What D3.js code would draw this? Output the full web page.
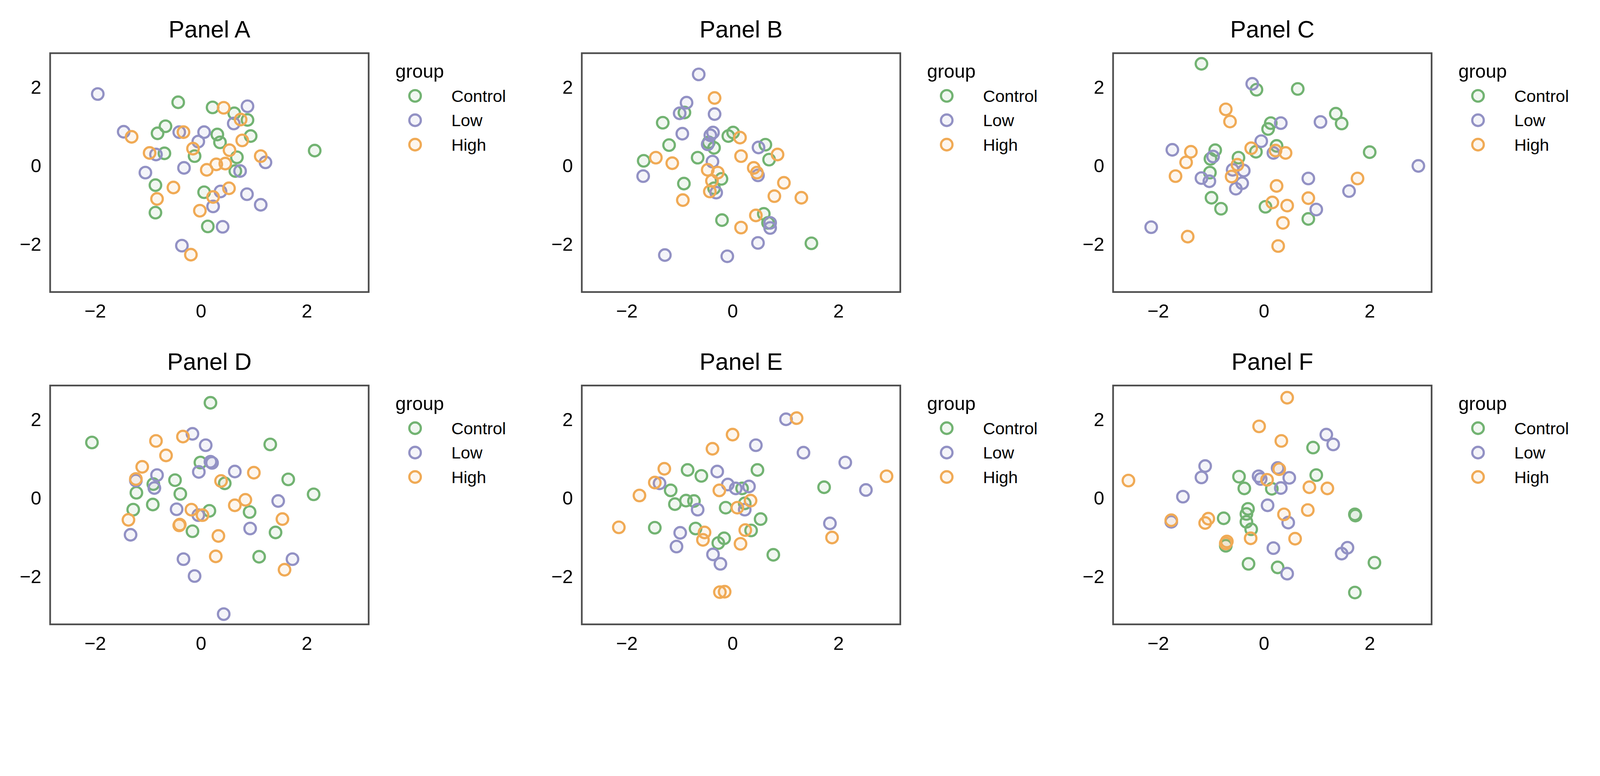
<!DOCTYPE html>
<html>
<head>
<meta charset="utf-8">
<script src="https://cdn.jsdelivr.net/npm/d3@7"></script>
<style>
  html, body { margin: 0; padding: 0; background: #fff; overflow: hidden; }
  svg { display: block; width: 100vw; height: 100vh; }
  text { font-family: "Liberation Sans", Arial, sans-serif; fill: #000; }
</style>
</head>
<body>
<div id="chart"></div>
<script>
const width = 4722
const height = 1987

const groups = ['Control', 'Low', 'High']
const colors = ['#72b372', '#9291c4', '#f0aa55']
const panelNames = ['Panel A', 'Panel B', 'Panel C', 'Panel D', 'Panel E', 'Panel F']
const xTicks = [-2, 0, 2]
const yTicks = [-2, 0, 2]

// [x, y] per point
const aControl = [[-0.43,1.62],[0.22,1.49],[0.63,1.34],[0.88,1.17],[-0.67,1.01],[-0.82,0.83],[0.31,0.80],[0.36,0.60],[0.94,0.76],[-0.69,0.32],[-0.12,0.25],[0.68,0.22],[2.15,0.39],[0.65,-0.13],[-0.86,-0.49],[0.06,-0.67],[-0.86,-1.19],[0.13,-1.54]]
const aLow = [[-1.95,1.83],[-1.46,0.87],[0.88,1.52],[0.62,1.08],[-0.41,0.86],[0.06,0.86],[-0.05,0.62],[-0.85,0.29],[1.22,0.09],[-0.32,-0.05],[-1.05,-0.17],[0.74,-0.13],[0.37,-0.65],[0.87,-0.72],[0.23,-1.03],[1.13,-0.99],[0.41,-1.55],[-0.36,-2.03]]
const aHigh = [[0.43,1.48],[0.75,1.18],[-1.31,0.74],[-0.33,0.86],[0.78,0.65],[-0.15,0.44],[-0.97,0.33],[0.54,0.40],[1.13,0.25],[0.29,0.04],[0.46,0.06],[0.11,-0.10],[-0.52,-0.55],[0.53,-0.57],[-0.83,-0.84],[0.23,-0.79],[-0.02,-1.14],[-0.19,-2.26]]

const bControl = [[-0.91,1.36],[-1.32,1.10],[0.01,0.85],[-0.08,0.76],[-1.20,0.53],[0.62,0.54],[-0.35,0.46],[-0.66,0.21],[0.69,0.16],[-1.68,0.13],[-0.21,-0.33],[-0.92,-0.45],[-0.35,-0.57],[0.59,-1.22],[-0.20,-1.38],[0.67,-1.45],[1.49,-1.97],[-0.45,0.60]]
const bLow = [[-0.64,2.33],[-0.87,1.61],[-1.00,1.34],[-0.34,1.32],[-0.95,0.82],[-0.37,0.85],[-0.42,0.78],[-0.47,0.55],[0.49,0.47],[-0.38,0.11],[-1.69,-0.26],[0.48,-0.24],[-0.31,-0.68],[0.71,-1.45],[0.71,-1.58],[0.48,-1.96],[-1.28,-2.27],[-0.10,-2.30]]
const bHigh = [[-0.34,1.73],[0.14,0.72],[0.85,0.29],[-1.45,0.21],[0.16,0.25],[-1.14,0.07],[-0.47,-0.10],[-0.28,-0.17],[0.40,-0.05],[0.46,-0.17],[-0.39,-0.38],[0.97,-0.43],[-0.43,-0.65],[0.79,-0.77],[1.30,-0.81],[-0.94,-0.87],[0.44,-1.26],[0.16,-1.57]]

const cControl = [[-1.18,2.60],[-0.14,1.94],[0.64,1.96],[1.36,1.33],[1.47,1.08],[0.13,1.09],[0.08,0.94],[0.24,0.51],[-0.15,0.36],[-0.92,0.40],[-1.01,0.18],[-0.48,0.21],[-1.02,-0.17],[2.00,0.35],[-0.99,-0.81],[-0.81,-1.09],[0.03,-1.04],[0.84,-1.35]]
const cLow = [[-0.22,2.09],[0.32,1.09],[1.07,1.12],[-0.05,0.63],[-1.73,0.41],[-0.96,0.24],[0.18,0.33],[-0.59,-0.10],[-0.38,-0.12],[-1.18,-0.31],[-1.03,-0.39],[-0.41,-0.44],[-0.53,-0.58],[0.84,-0.32],[2.92,0.00],[1.61,-0.64],[0.99,-1.11],[-2.13,-1.56]]
const cHigh = [[-0.72,1.44],[-0.64,1.13],[-0.24,0.45],[0.22,0.39],[0.41,0.33],[-1.38,0.36],[-1.47,0.09],[-0.50,0.03],[-0.61,-0.27],[-1.67,-0.26],[1.77,-0.32],[0.24,-0.51],[0.84,-0.82],[0.16,-0.93],[0.44,-1.01],[0.36,-1.45],[-1.44,-1.80],[0.27,-2.04]]

const dControl = [[0.18,2.43],[-2.06,1.42],[1.31,1.37],[-0.01,0.91],[-0.49,0.46],[1.65,0.48],[-0.90,0.36],[0.45,0.38],[-1.22,0.14],[-0.39,0.11],[2.13,0.10],[-0.91,-0.16],[-1.28,-0.29],[0.16,-0.32],[0.92,-0.35],[-0.16,-0.84],[1.41,-0.87],[1.10,-1.49]]
const dLow = [[-0.16,1.64],[0.09,1.35],[0.18,0.93],[0.21,0.90],[-0.04,0.67],[0.64,0.68],[-0.83,0.59],[-1.23,0.45],[-0.88,0.26],[1.46,-0.07],[-0.46,-0.28],[-0.05,-0.43],[0.93,-0.77],[-1.33,-0.93],[-0.33,-1.55],[1.73,-1.55],[-0.12,-1.98],[0.43,-2.95]]
const dHigh = [[-0.34,1.57],[-0.85,1.46],[-0.66,1.09],[-1.11,0.80],[1.00,0.65],[-1.23,0.49],[0.38,0.44],[0.84,-0.04],[0.64,-0.18],[-0.18,-0.29],[0.03,-0.43],[-1.37,-0.55],[1.54,-0.53],[-0.41,-0.69],[-0.40,-0.67],[0.33,-0.96],[0.28,-1.48],[1.58,-1.82]]

const eControl = [[-0.85,0.72],[0.47,0.72],[-0.59,0.57],[-1.17,0.20],[0.18,0.25],[1.73,0.28],[-0.88,-0.06],[-0.73,-0.07],[-1.09,-0.15],[0.23,-0.13],[-0.13,-0.24],[0.53,-0.53],[-1.47,-0.75],[-0.70,-0.77],[0.35,-0.82],[-0.16,-1.02],[-0.27,-1.14],[0.77,-1.44]]
const eLow = [[1.01,2.01],[0.44,1.35],[1.34,1.16],[2.13,0.91],[-0.29,0.68],[-0.09,0.35],[0.06,0.25],[0.31,0.30],[-1.38,0.38],[2.52,0.21],[-0.66,-0.29],[0.23,-0.29],[1.84,-0.64],[-0.99,-0.88],[-1.06,-1.23],[-0.37,-1.43],[-0.23,-1.67]]
const eHigh = [[1.21,2.04],[0.00,1.62],[-0.38,1.26],[-1.29,0.75],[2.91,0.56],[-1.47,0.40],[-0.25,0.20],[-1.76,0.07],[0.34,-0.06],[0.09,-0.24],[-2.15,-0.74],[0.24,-0.81],[-0.53,-0.87],[-0.56,-1.06],[0.15,-1.16],[1.88,-1.00],[-0.24,-2.39],[-0.15,-2.38]]

const fControl = [[0.93,1.29],[0.99,0.59],[-0.47,0.55],[-0.37,0.25],[0.15,0.24],[-0.30,-0.27],[-0.33,-0.40],[-0.76,-0.51],[-0.33,-0.60],[1.72,-0.41],[1.73,-0.44],[-0.24,-0.79],[-0.72,-1.21],[-0.29,-1.67],[0.26,-1.76],[2.09,-1.64],[1.72,-2.40]]
const fLow = [[1.18,1.62],[1.31,1.37],[-1.11,0.82],[-1.18,0.53],[0.26,0.77],[-0.10,0.56],[-0.06,0.49],[0.48,0.52],[0.32,0.26],[-1.53,0.04],[0.07,-0.18],[-1.75,-0.60],[0.46,-0.62],[1.58,-1.26],[1.47,-1.41],[0.18,-1.27],[0.44,-1.92]]
const fHigh = [[0.44,2.56],[-0.09,1.83],[0.33,1.46],[-2.56,0.45],[0.29,0.74],[0.06,0.47],[0.86,0.28],[1.20,0.25],[0.83,-0.30],[0.38,-0.41],[-1.75,-0.56],[-1.05,-0.52],[-1.11,-0.63],[-0.25,-1.02],[-0.70,-1.10],[0.59,-1.03],[-0.72,-1.15]]

const panelData = [
  [aControl, aLow, aHigh],
  [bControl, bLow, bHigh],
  [cControl, cLow, cHigh],
  [dControl, dLow, dHigh],
  [eControl, eLow, eHigh],
  [fControl, fLow, fHigh]
]

const colLefts = [148, 1717, 3285]
const rowTops = [157, 1138]
const panelW = 940
const panelH = 705

const x = d3.scaleLinear().domain([-2.85, 3.17]).range([0, panelW])
const y = d3.scaleLinear().domain([-3.21, 2.87]).range([panelH, 0])

const svg = d3
  .select('#chart')
  .append('svg')
  .attr('viewBox', `0 0 ${width} ${height}`)
  .attr('preserveAspectRatio', 'xMinYMin meet')

panelData.forEach((series, i) => {
  const left = colLefts[i % 3]
  const top = rowTops[Math.floor(i / 3)]
  const g = svg.append('g').attr('transform', `translate(${left},${top})`)

  g.append('text')
    .attr('x', panelW / 2)
    .attr('y', -46)
    .attr('text-anchor', 'middle')
    .style('font-size', '70px')
    .text(panelNames[i])

  g.append('g')
    .attr('transform', `translate(0,${panelH})`)
    .call(d3.axisBottom(x).tickValues(xTicks).tickSize(0).tickPadding(36).tickFormat(d3.format('d')))
    .call(a => a.select('.domain').remove())
    .selectAll('text').style('font-size', '56px')

  g.append('g')
    .call(d3.axisLeft(y).tickValues(yTicks).tickSize(0).tickPadding(26).tickFormat(d3.format('d')))
    .call(a => a.select('.domain').remove())
    .selectAll('text').style('font-size', '56px')

  series.forEach((pts, k) => {
    g.append('g')
      .selectAll('circle')
      .data(pts)
      .enter()
      .append('circle')
      .attr('cx', d => x(d[0]))
      .attr('cy', d => y(d[1]))
      .attr('r', 17)
      .attr('fill', d3.color(colors[k]).copy({ opacity: 0.1 }))
      .attr('stroke', colors[k])
      .attr('stroke-width', 6.5)
  })

  g.append('rect')
    .attr('width', panelW)
    .attr('height', panelH)
    .attr('fill', 'none')
    .attr('stroke', '#4d4d4d')
    .attr('stroke-width', 5)

  const legend = g.append('g').attr('transform', `translate(${panelW + 79},0)`)
  legend.append('text').attr('x', 0).attr('y', 73).style('font-size', '56px').text('group')
  groups.forEach((name, k) => {
    const cy = 126 + k * 72
    legend.append('circle')
      .attr('cx', 58).attr('cy', cy).attr('r', 17)
      .attr('fill', d3.color(colors[k]).copy({ opacity: 0.1 }))
      .attr('stroke', colors[k]).attr('stroke-width', 6.5)
    legend.append('text')
      .attr('x', 165).attr('y', cy)
      .attr('dy', '0.35em')
      .style('font-size', '50px')
      .text(name)
  })
})
</script>
</body>
</html>
